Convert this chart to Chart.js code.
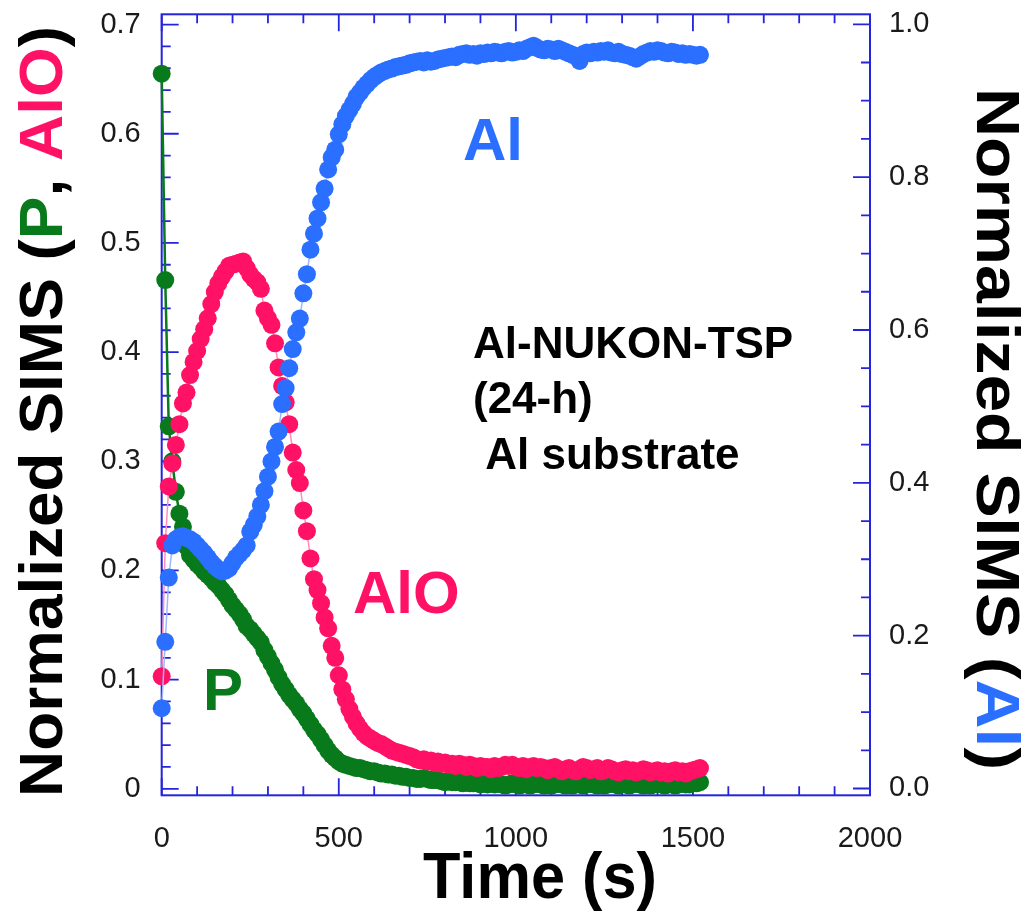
<!DOCTYPE html>
<html><head><meta charset="utf-8">
<script src="https://cdn.jsdelivr.net/npm/chart.js@4.4.1/dist/chart.umd.min.js"></script>
<style>html,body{margin:0;padding:0;background:#fff;overflow:hidden}canvas{display:block}</style>
</head><body>
<canvas id="c" width="1029" height="919" style="width:1029px;height:919px"></canvas>
<script>
// ---- data ----
const timeS = [
0,10,20,30,40,50,60,70,80,90,
100,110,120,130,140,150,160,170,180,190,
200,210,220,230,240,250,260,270,280,290,
300,310,320,330,340,350,360,370,380,390,
400,410,420,430,440,450,460,470,480,490,
500,510,520,530,540,550,560,570,580,590,
600,610,620,630,640,650,660,670,680,690,
700,710,720,730,740,750,760,770,780,790,
800,810,820,830,840,850,860,870,880,890,
900,910,920,930,940,950,960,970,980,990,
1000,1010,1020,1030,1040,1050,1060,1070,1080,1090,
1100,1110,1120,1130,1140,1150,1160,1170,1180,1190,
1200,1210,1220,1230,1240,1250,1260,1270,1280,1290,
1300,1310,1320,1330,1340,1350,1360,1370,1380,1390,
1400,1410,1420,1430,1440,1450,1460,1470,1480,1490,
1500,1510,1520];

const pValues = [
0.655,0.466,0.332,0.300,0.272,0.252,0.240,0.222,0.214,0.210,
0.206,0.203,0.199,0.196,0.193,0.189,0.186,0.182,0.178,0.173,
0.168,0.164,0.160,0.155,0.149,0.146,0.142,0.138,0.134,0.127,
0.121,0.115,0.109,0.102,0.096,0.091,0.086,0.082,0.078,0.073,
0.069,0.064,0.059,0.054,0.050,0.045,0.040,0.035,0.031,0.028,
0.025,0.023,0.022,0.021,0.020,0.019,0.019,0.018,0.017,0.016,
0.016,0.015,0.014,0.014,0.013,0.013,0.012,0.012,0.011,0.011,
0.010,0.010,0.009,0.009,0.010,0.009,0.008,0.008,0.008,0.007,
0.006,0.007,0.006,0.006,0.007,0.005,0.006,0.005,0.005,0.006,
0.004,0.005,0.004,0.005,0.004,0.005,0.004,0.003,0.004,0.005,
0.004,0.003,0.004,0.004,0.003,0.004,0.005,0.004,0.003,0.004,
0.003,0.004,0.005,0.004,0.003,0.004,0.003,0.004,0.004,0.003,
0.004,0.005,0.004,0.003,0.004,0.003,0.004,0.005,0.004,0.003,
0.004,0.004,0.003,0.004,0.005,0.004,0.003,0.004,0.003,0.004,
0.005,0.004,0.003,0.004,0.004,0.003,0.004,0.005,0.004,0.004,
0.005,0.005,0.006];

const aloValues = [
0.103,0.225,0.277,0.298,0.315,0.334,0.353,0.363,0.379,0.391,
0.401,0.412,0.421,0.431,0.444,0.455,0.463,0.469,0.474,0.479,
0.480,0.481,0.482,0.483,0.477,0.471,0.467,0.464,0.458,0.438,
0.431,0.425,0.408,0.386,0.369,0.354,0.334,0.308,0.292,0.280,
0.255,0.236,0.211,0.192,0.182,0.170,0.157,0.147,0.131,0.120,
0.104,0.091,0.082,0.073,0.066,0.060,0.055,0.051,0.048,0.046,
0.044,0.042,0.041,0.039,0.037,0.035,0.034,0.033,0.032,0.031,
0.030,0.029,0.027,0.026,0.027,0.025,0.026,0.024,0.025,0.023,
0.024,0.022,0.023,0.021,0.023,0.022,0.020,0.022,0.021,0.019,
0.021,0.020,0.020,0.018,0.021,0.019,0.020,0.022,0.021,0.022,
0.020,0.019,0.021,0.018,0.020,0.021,0.019,0.020,0.019,0.017,
0.019,0.020,0.018,0.016,0.018,0.019,0.017,0.016,0.018,0.020,
0.019,0.017,0.018,0.019,0.016,0.017,0.019,0.018,0.016,0.015,
0.017,0.018,0.016,0.017,0.015,0.016,0.018,0.017,0.015,0.016,
0.017,0.015,0.016,0.014,0.016,0.017,0.015,0.016,0.014,0.016,
0.017,0.018,0.019];

const alValues = [
0.105,0.192,0.276,0.318,0.326,0.329,0.330,0.328,0.326,0.323,
0.318,0.313,0.308,0.302,0.296,0.291,0.287,0.284,0.285,0.288,
0.295,0.302,0.307,0.312,0.318,0.336,0.345,0.356,0.371,0.389,
0.408,0.428,0.447,0.467,0.503,0.524,0.550,0.575,0.597,0.615,
0.648,0.673,0.705,0.726,0.746,0.767,0.785,0.810,0.826,0.836,
0.856,0.869,0.880,0.888,0.896,0.905,0.911,0.917,0.922,0.927,
0.931,0.934,0.937,0.939,0.941,0.942,0.944,0.945,0.946,0.947,
0.949,0.950,0.951,0.952,0.950,0.953,0.951,0.952,0.954,0.955,
0.956,0.957,0.958,0.957,0.960,0.961,0.962,0.960,0.961,0.959,
0.962,0.961,0.963,0.962,0.964,0.963,0.962,0.964,0.965,0.963,
0.964,0.966,0.965,0.968,0.970,0.972,0.969,0.967,0.966,0.968,
0.967,0.965,0.968,0.966,0.964,0.962,0.960,0.958,0.952,0.961,
0.963,0.962,0.964,0.963,0.965,0.964,0.966,0.963,0.962,0.964,
0.961,0.960,0.959,0.957,0.955,0.958,0.961,0.963,0.965,0.964,
0.966,0.965,0.963,0.962,0.964,0.963,0.961,0.962,0.960,0.961,
0.960,0.959,0.960];

const xTickValues = [0,500,1000,1500,2000];
const xTickLabels = ['0','500','1000','1500','2000'];
const yLeftTickValues = [0,0.1,0.2,0.3,0.4,0.5,0.6,0.7];
const yLeftTickLabels = ['0','0.1','0.2','0.3','0.4','0.5','0.6','0.7'];
const yRightTickValues = [0,0.2,0.4,0.6,0.8,1.0];
const yRightTickLabels = ['0.0','0.2','0.4','0.6','0.8','1.0'];

const xTitle = 'Time (s)';
const leftTitleParts = [['Normalized SIMS (','#000'],['P','#087a1c'],[', ','#000'],['AlO','#ff1166'],[')','#000']];
const rightTitleParts = [['Normalized SIMS (','#000'],['Al','#2a6fff'],[')','#000']];
const noteLines = ['Al-NUKON-TSP','(24-h)',' Al substrate'];

// ---- styles ----
const GREEN='#087a1c', PINK='#ff1166', BLUE='#2a6fff';
const FRAME='#2424dc';
const FONT='"Liberation Sans", Arial, Helvetica, sans-serif';

function pts(vals){ return timeS.map((t,i)=>({x:t,y:vals[i]})); }

function drawRich(ctx, parts, font, x, y, angle, targetLen, sy){
  ctx.save();
  ctx.font = font;
  const widths = parts.map(p=>ctx.measureText(p[0]).width);
  const total = widths.reduce((a,b)=>a+b,0);
  ctx.translate(x,y); ctx.rotate(angle);
  ctx.scale(targetLen ? targetLen/total : 1, sy || 1);
  ctx.textBaseline='alphabetic'; ctx.textAlign='left';
  let cx=0;
  parts.forEach((p,i)=>{ ctx.fillStyle=p[1]; ctx.fillText(p[0],cx,0); cx+=widths[i]; });
  ctx.restore();
}

const frameTicks = {
  id:'frameTicks',
  beforeDatasetsDraw(chart){
    const {ctx, chartArea:a, scales} = chart;
    const x=scales.x, y=scales.y, y1=scales.y1;
    ctx.save();
    ctx.strokeStyle=FRAME; ctx.lineWidth=1.8;
    ctx.beginPath();
    for(let i=0;i<=20;i++){
      const px=x.getPixelForValue(i*100); const len=(i%5===0)?17:9;
      ctx.moveTo(px,a.bottom); ctx.lineTo(px,a.bottom-len);
      ctx.moveTo(px,a.top); ctx.lineTo(px,a.top+len);
    }
    for(let i=0;i<=35;i++){
      const py=y.getPixelForValue(i*0.02); const len=(i%5===0)?17:9;
      ctx.moveTo(a.left,py); ctx.lineTo(a.left+len,py);
    }
    for(let i=0;i<=20;i++){
      const py=y1.getPixelForValue(i*0.05); const len=(i%4===0)?17:9;
      ctx.moveTo(a.right,py); ctx.lineTo(a.right-len,py);
    }
    ctx.stroke();
    ctx.lineWidth=2;
    ctx.strokeRect(a.left,a.top,a.right-a.left,a.bottom-a.top);
    ctx.restore();
  }
};

const textLayer = {
  id:'textLayer',
  afterDraw(chart){
    const ctx=chart.ctx;
    drawRich(ctx, leftTitleParts, 'bold 61px '+FONT, 62, 797, -Math.PI/2, 771);
    drawRich(ctx, rightTitleParts, 'bold 61px '+FONT, 977, 88, Math.PI/2, 682);
    drawRich(ctx, [[xTitle,'#000']], 'bold 61px '+FONT, 423, 898, 0, 234, 1.05);
    drawRich(ctx, [['Al',BLUE]], 'bold 60px '+FONT, 463, 160);
    drawRich(ctx, [['AlO',PINK]], 'bold 60px '+FONT, 353, 613);
    drawRich(ctx, [['P',GREEN]], 'bold 60px '+FONT, 203, 710);
    const nb=[358,413,469];
    noteLines.forEach((s,i)=>drawRich(ctx, [[s,'#000']], 'bold 44px '+FONT, 473, nb[i]));
  }
};

function ds(label, vals, color, lineColor, lw, axis){
  return { label, data: pts(vals), yAxisID: axis, showLine:true,
    borderColor: lineColor, borderWidth: lw, backgroundColor: color,
    pointRadius:9, pointHoverRadius:9, pointBorderWidth:0,
    pointBackgroundColor: color, clip:false, tension:0 };
}

const tickFontV = {family:FONT, size:29, lineHeight:0.98};
const tickFontH = {family:FONT, size:29, lineHeight:1.2};

new Chart(document.getElementById('c'), {
  type:'scatter',
  data:{ datasets:[
    ds('Al', alValues, BLUE, '#9db8ff', 1.5, 'y1'),
    ds('AlO', aloValues, PINK, '#ff8fb8', 1.5, 'y'),
    ds('P', pValues, GREEN, GREEN, 2.5, 'y')
  ]},
  options:{
    responsive:false, animation:false, events:[],
    layout:{ padding:{ top:14.3, left:0, right:0, bottom:0 } },
    plugins:{ legend:{display:false}, tooltip:{enabled:false} },
    scales:{
      x:{ type:'linear', position:'bottom', min:0, max:2000,
        afterBuildTicks:s=>{ s.ticks = xTickValues.map(v=>({value:v})); },
        afterFit:s=>{ s.height = 919-795.3; },
        ticks:{ font:tickFontH, color:'#1a1a1a', padding:0, maxRotation:0, minRotation:0, autoSkip:false,
          callback:v=>{ const i=xTickValues.indexOf(v); return i>=0?xTickLabels[i]:''; } },
        grid:{ display:true, drawOnChartArea:false, drawTicks:true, tickLength:26, tickColor:'rgba(0,0,0,0)' },
        border:{ display:false }, title:{display:false} },
      y:{ type:'linear', position:'left', min:-0.00595, max:0.7094,
        afterBuildTicks:s=>{ s.ticks = yLeftTickValues.map(v=>({value:v})); },
        afterFit:s=>{ s.width = 161.7; },
        ticks:{ font:tickFontV, color:'#1a1a1a', padding:0, autoSkip:false,
          callback:v=>{ const i=yLeftTickValues.findIndex(t=>Math.abs(t-v)<1e-9); return i>=0?yLeftTickLabels[i]:''; } },
        grid:{ display:true, drawOnChartArea:false, drawTicks:true, tickLength:21, tickColor:'rgba(0,0,0,0)' },
        border:{ display:false } },
      y1:{ type:'linear', position:'right', min:-0.0089, max:1.01308,
        afterBuildTicks:s=>{ s.ticks = yRightTickValues.map(v=>({value:v})); },
        afterFit:s=>{ s.width = 1029-870; },
        ticks:{ font:tickFontV, color:'#1a1a1a', padding:0, autoSkip:false,
          callback:v=>{ const i=yRightTickValues.findIndex(t=>Math.abs(t-v)<1e-9); return i>=0?yRightTickLabels[i]:''; } },
        grid:{ display:true, drawOnChartArea:false, drawTicks:true, tickLength:19, tickColor:'rgba(0,0,0,0)' },
        border:{ display:false } }
    }
  },
  plugins:[frameTicks, textLayer]
});
</script>
</body></html>
